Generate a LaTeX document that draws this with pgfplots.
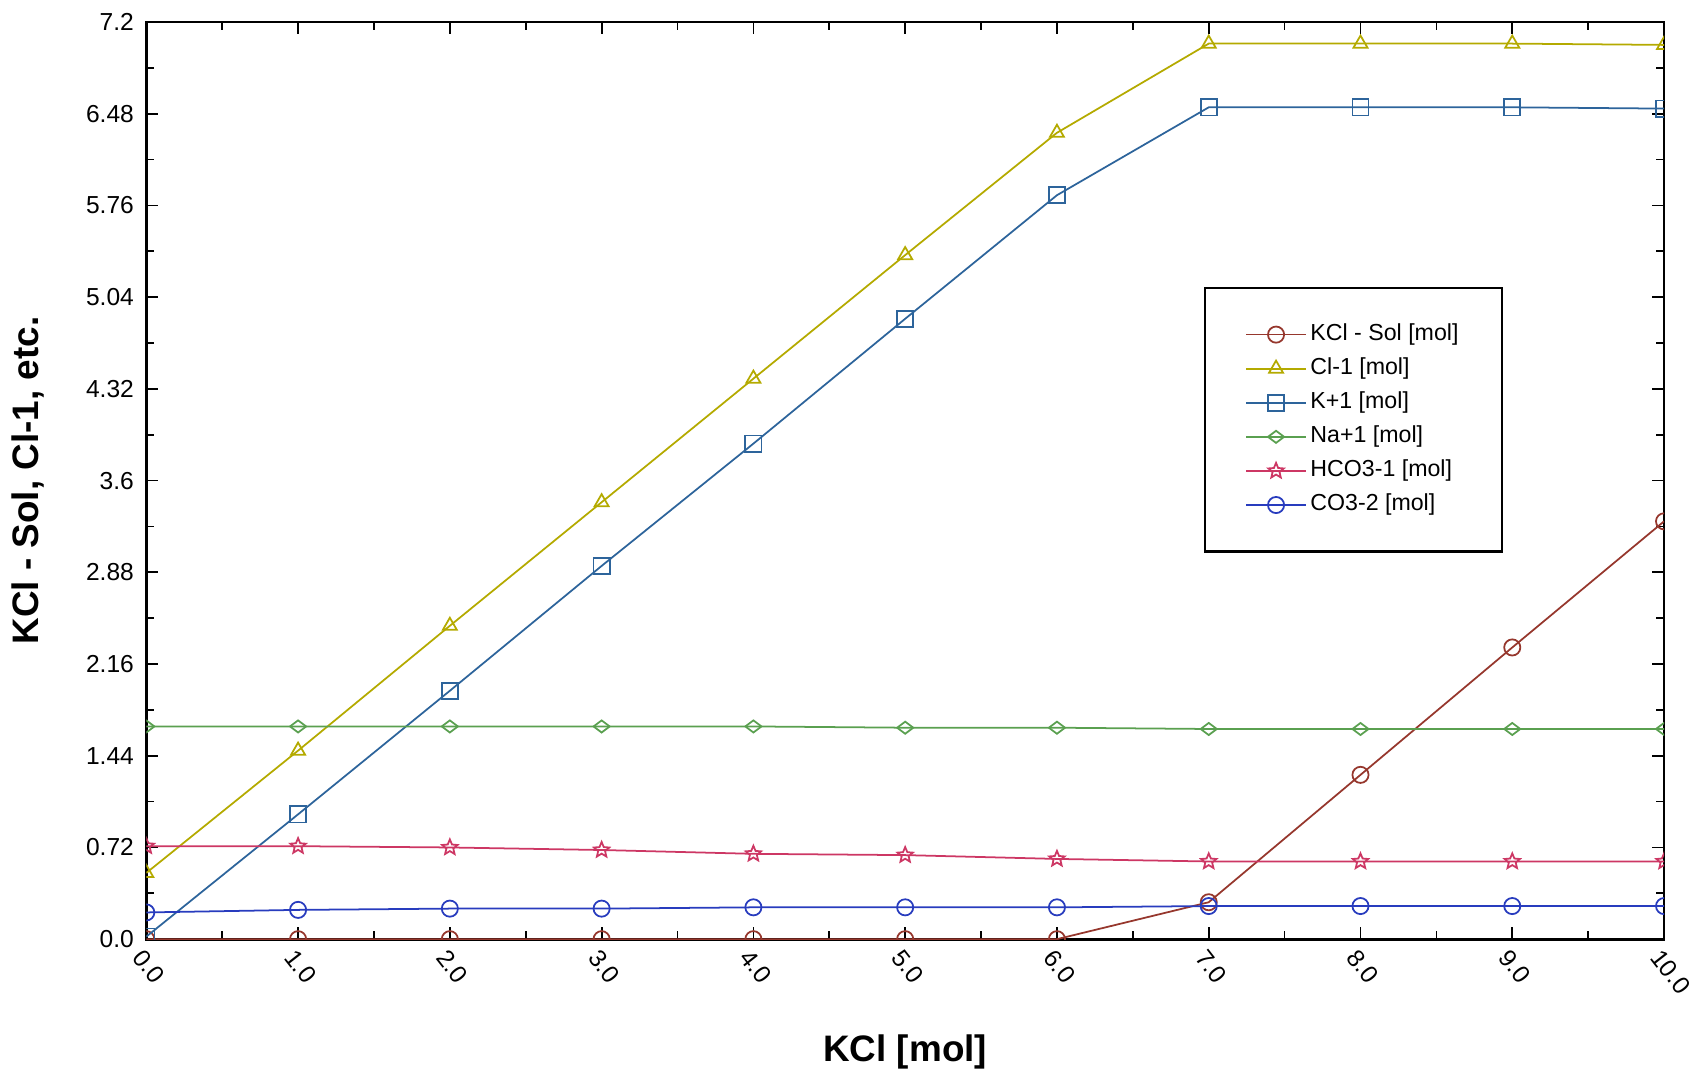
\documentclass[border=0pt]{standalone}
\usepackage{fontspec}
\setmainfont{Liberation Sans}
\usepackage{pgfplots}
\pgfplotsset{compat=1.18}
\usetikzlibrary{plotmarks}

\definecolor{kclsol}{RGB}{150,55,45}
\definecolor{clone}{RGB}{180,170,0}
\definecolor{kone}{RGB}{45,100,155}
\definecolor{naone}{RGB}{90,160,80}
\definecolor{hcothree}{RGB}{205,55,100}
\definecolor{cothree}{RGB}{40,60,190}

% outlined five point star
\pgfdeclareplotmark{ostar}{%
  \pgfpathmoveto{\pgfpointpolar{90}{\pgfplotmarksize}}%
  \pgfpathlineto{\pgfpointpolar{126}{0.45\pgfplotmarksize}}%
  \pgfpathlineto{\pgfpointpolar{162}{\pgfplotmarksize}}%
  \pgfpathlineto{\pgfpointpolar{198}{0.45\pgfplotmarksize}}%
  \pgfpathlineto{\pgfpointpolar{234}{\pgfplotmarksize}}%
  \pgfpathlineto{\pgfpointpolar{270}{0.45\pgfplotmarksize}}%
  \pgfpathlineto{\pgfpointpolar{306}{\pgfplotmarksize}}%
  \pgfpathlineto{\pgfpointpolar{342}{0.45\pgfplotmarksize}}%
  \pgfpathlineto{\pgfpointpolar{18}{\pgfplotmarksize}}%
  \pgfpathlineto{\pgfpointpolar{54}{0.45\pgfplotmarksize}}%
  \pgfpathclose\pgfusepathqstroke}

\begin{document}
\begin{tikzpicture}
\begin{axis}[
    scale only axis,
    width=15.19cm, height=9.18cm,
    xmin=0, xmax=10, ymin=0, ymax=7.2,
    xtick={0,1,...,10},
    ytick={0,0.72,1.44,2.16,2.88,3.6,4.32,5.04,5.76,6.48,7.2},
    yticklabels={0.0,0.72,1.44,2.16,2.88,3.6,4.32,5.04,5.76,6.48,7.2},
    minor tick num=1,
    tick align=inside,
    major tick length=0.12cm,
    minor tick length=0.08cm,
    axis line style={line width=0.8pt},
    every tick/.style={black, line width=0.5pt},
    /pgf/number format/assume math mode=true,
    x tick label style={/pgf/number format/.cd, fixed, fixed zerofill, precision=1, /tikz/.cd,
        rotate=-52, anchor=north west, inner sep=1.5pt},
    tick label style={font=\fontsize{7}{8}\selectfont},
    xlabel={\textbf{KCl [mol]}},
    ylabel={\textbf{KCl - Sol, Cl-1, etc.}},
    label style={font=\fontsize{10.5}{12}\selectfont},
    xlabel style={at={(axis description cs:0.5,-0.123)}, anchor=center},
    ylabel style={at={(axis description cs:-0.078,0.5)}, anchor=center},
    clip marker paths=true,
    every axis plot/.append style={line width=0.5pt, mark size=2.3pt},
    legend cell align=left,
    legend style={at={(axis description cs:0.697,0.711)}, anchor=north west,
        draw=black, line width=0.6pt, fill=white,
        font=\fontsize{6.6}{8}\selectfont,
        inner xsep=0.4cm, inner ysep=0.32cm, row sep=0.05cm,
        nodes={inner sep=1pt}},
    legend image code/.code={%
        \draw[mark repeat=2, mark phase=2, line width=0.5pt]
            plot coordinates {(0cm,0cm) (0.3cm,0cm) (0.6cm,0cm)};},
]
\addplot[color=kclsol, mark=o] coordinates {
    (0,0) (1,0) (2,0) (3,0) (4,0) (5,0) (6,0) (7,0.29) (8,1.29) (9,2.29) (10,3.28)
};
\addlegendentry{KCl - Sol [mol]}
\addplot[color=clone, mark=triangle] coordinates {
    (0,0.52) (1,1.48) (2,2.46) (3,3.43) (4,4.40) (5,5.37) (6,6.33) (7,7.03) (8,7.03) (9,7.03) (10,7.02)
};
\addlegendentry{Cl-1 [mol]}
\addplot[color=kone, mark=square] coordinates {
    (0,0.02) (1,0.98) (2,1.95) (3,2.93) (4,3.89) (5,4.87) (6,5.84) (7,6.53) (8,6.53) (9,6.53) (10,6.52)
};
\addlegendentry{K+1 [mol]}
\addplot[color=naone, mark=diamond, mark options={rotate=90}] coordinates {
    (0,1.67) (1,1.67) (2,1.67) (3,1.67) (4,1.67) (5,1.66) (6,1.66) (7,1.65) (8,1.65) (9,1.65) (10,1.65)
};
\addlegendentry{Na+1 [mol]}
\addplot[color=hcothree, mark=ostar] coordinates {
    (0,0.73) (1,0.73) (2,0.72) (3,0.70) (4,0.67) (5,0.66) (6,0.63) (7,0.61) (8,0.61) (9,0.61) (10,0.61)
};
\addlegendentry{HCO3-1 [mol]}
\addplot[color=cothree, mark=o] coordinates {
    (0,0.21) (1,0.23) (2,0.24) (3,0.24) (4,0.25) (5,0.25) (6,0.25) (7,0.26) (8,0.26) (9,0.26) (10,0.26)
};
\addlegendentry{CO3-2 [mol]}
\end{axis}
\path (current axis.south west) ++(-1.45cm,-1.36cm);
\path (current axis.north east) ++(0.41cm,0.22cm);
\end{tikzpicture}
\end{document}
